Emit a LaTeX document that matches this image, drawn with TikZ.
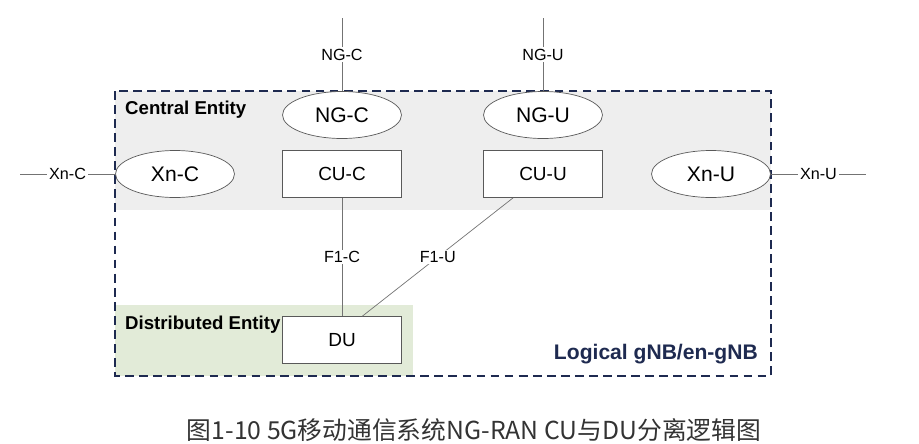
\documentclass[tikz,border=0pt]{standalone}
\usepackage{fontspec}
\setmainfont{Liberation Sans}
\newfontfamily\cjkfont{Noto Sans CJK SC}
\usetikzlibrary{positioning,calc,shapes.geometric}
\definecolor{frameColor}{RGB}{30,42,80}
\definecolor{cuColor}{RGB}{238,238,238}
\definecolor{duColor}{RGB}{226,235,216}
\definecolor{lineColor}{RGB}{115,115,115}
\tikzset{
    entity/.style={
        ellipse,
        draw=black!65,
        fill=white,
        minimum width=2.38cm,
        minimum height=0.94cm,
        inner sep=0pt,
        font=\fontsize{12}{14}\selectfont
    },
    unitbox/.style={
        rectangle,
        draw=black!65,
        fill=white,
        minimum width=2.38cm,
        minimum height=0.94cm,
        inner sep=0pt,
        font=\fontsize{10.8}{13}\selectfont
    },
    iface/.style={
        draw=lineColor,
        thin
    },
    iflabel/.style={
        fill=white,
        inner sep=1pt,
        font=\fontsize{9.2}{11}\selectfont
    },
    area/.style={
        anchor=west,
        font=\bfseries\fontsize{10.6}{12}\selectfont
    }
}

\begin{document}
\begin{tikzpicture}[x=0.02cm, y=-0.02cm]
        \useasboundingbox (0,0) rectangle (919,443);
        % entity areas and frame
        \fill[cuColor] (115,91) rectangle (771,210);
        \fill[duColor] (115,305) rectangle (413,376);
        \draw[frameColor, line width=1pt, dash pattern=on 5pt off 3pt] (115,91) rectangle (771,376);

        \node[entity] (ngc) at (342,115) {NG-C};
        \node[entity] (ngu) at (543,115) {NG-U};
        \node[entity] (xnc) at (175,174) {Xn-C};
        \node[entity] (xnu) at (711,174) {Xn-U};
        \node[unitbox] (cuc) at (342,174) {CU-C};
        \node[unitbox] (cuu) at (543,174) {CU-U};
        \node[unitbox] (du) at (342,340) {DU};

        \node[area] (central) at (119,110) {Central Entity};
        \node[area] (distributed) at (119,325) {Distributed Entity};
        \node[anchor=east, text=frameColor, font=\bfseries\fontsize{12}{14}\selectfont] (gnb) at (764,354) {Logical gNB/en-gNB};

        % outer interfaces
        \coordinate (ngcEnd) at (342,18);
        \coordinate (nguEnd) at (543,18);
        \coordinate (xncEnd) at (20,174);
        \coordinate (xnuEnd) at (866,174);
        \draw[iface] (ngcEnd) -- node[iflabel] (ngcLbl) {NG-C} (ngc);
        \draw[iface] (nguEnd) -- node[iflabel] (nguLbl) {NG-U} (ngu);
        \draw[iface] (xncEnd) -- node[iflabel] (xncLbl) {Xn-C} (xnc);
        \draw[iface] (xnu) -- node[iflabel] (xnuLbl) {Xn-U} (xnuEnd);

        % F1 interfaces
        \draw[iface] (cuc) -- node[iflabel] (f1cLbl) {F1-C} (du);
        \draw[iface] ($(cuu.south west)!0.25!(cuu.south east)$) -- node[iflabel] (f1uLbl) {F1-U} ($(du.north west)!0.67!(du.north east)$);

        \node[text=black!80, font=\cjkfont\fontsize{14.1}{17}\selectfont] (caption) at (474,430) {图1-10 5G移动通信系统NG-RAN CU与DU分离逻辑图};
    \end{tikzpicture}
\end{document}
